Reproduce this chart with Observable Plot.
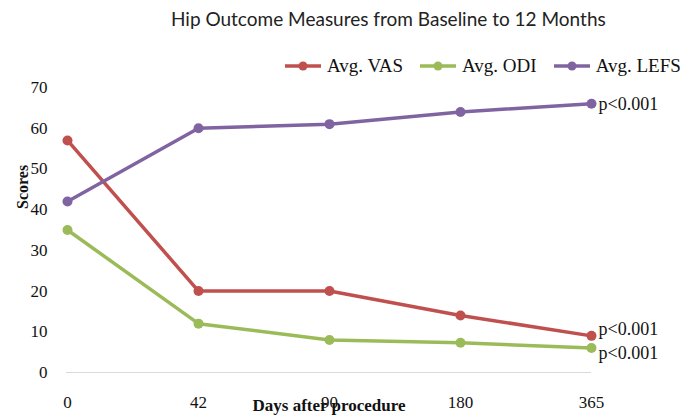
<!DOCTYPE html>
<html><head><meta charset="utf-8">
<script src="https://cdn.jsdelivr.net/npm/d3@7"></script>
<script src="https://cdn.jsdelivr.net/npm/@observablehq/plot@0.6"></script>
<style>
body{margin:0;background:#fff;}
#wrap{position:relative;width:691px;height:419px;}
#title{position:absolute;left:171px;top:7px;white-space:nowrap;font-family:Lato,"Liberation Sans",sans-serif;font-size:19px;color:#222;}
#legend{position:absolute;top:55px;left:285px;display:flex;gap:17px;font-family:"Liberation Serif",serif;font-size:19px;color:#111;white-space:nowrap;}
.item{display:flex;align-items:center;gap:6px;}
</style></head>
<body><div id="wrap"><div id="title"></div><div id="legend"></div></div>
<script>
const days = ["0","42","90","180","365"];
const seriesNames = ["Avg. VAS","Avg. ODI","Avg. LEFS"];
const colors = ["#c0504d","#9bbb59","#8064a2"];
const vas = [57,20,20,14,9];
const odi = [35,12,8,7.3,6];
const lefs = [42,60,61,64,66];
const pValues = ["p<0.001","p<0.001","p<0.001"];
const pOffsets = [-7,5,0];
const titleText = "Hip Outcome Measures from Baseline to 12 Months";
const xLabel = "Days after procedure";
const yLabel = "Scores";
const yTicks = [0,10,20,30,40,50,60,70];

const values = [vas, odi, lefs];
const data = [];
values.forEach((arr,i)=>arr.forEach((v,j)=>data.push({series:seriesNames[i], day:days[j], value:v})));
const lastPts = values.map((arr,i)=>({series:seriesNames[i], day:days[days.length-1], value:arr[arr.length-1], p:pValues[i]}));

document.getElementById("title").textContent = titleText;
const leg = document.getElementById("legend");
seriesNames.forEach((s,i)=>{
  const it=document.createElement("div");it.className="item";
  it.innerHTML=`<svg width="36" height="12"><line x1="0" y1="6" x2="36" y2="6" stroke="${colors[i]}" stroke-width="3.5"/><circle cx="18" cy="6" r="4.5" fill="${colors[i]}"/></svg><span>${s}</span>`;
  leg.appendChild(it);
});

const pMarks = lastPts.map((d,i)=>Plot.text([d],{x:"day", y:"value", text:"p", dx:7, dy:pOffsets[i], textAnchor:"start", fontSize:18, fill:"#111"}));

const chart = Plot.plot({
  width:691, height:419,
  marginLeft:66, marginRight:100, marginTop:87, marginBottom:47,
  style:{fontFamily:"Liberation Serif, serif", fontSize:"16px", color:"#111", background:"transparent"},
  x:{type:"point", domain:days, padding:0},
  y:{domain:[0,70]},
  color:{domain:seriesNames, range:colors},
  marks:[
    Plot.ruleY([0],{stroke:"#d9d9d9", strokeWidth:1}),
    Plot.axisY({ticks:yTicks, tickSize:0, tickPadding:19, label:null, fontSize:17}),
    Plot.axisX({tickSize:0, tickPadding:23, label:null, fontSize:17}),
    Plot.text([yLabel],{frameAnchor:"left", dx:-44, dy:-21, rotate:-90, fontWeight:"bold", fontSize:16, fill:"#111"}),
    Plot.text([xLabel],{frameAnchor:"bottom", dy:38, fontWeight:"bold", fontSize:17, fill:"#111"}),
    Plot.line(data,{x:"day", y:"value", z:"series", stroke:"series", strokeWidth:3.5}),
    Plot.dot(data,{x:"day", y:"value", fill:"series", r:5}),
    ...pMarks
  ]
});
document.getElementById("wrap").appendChild(chart);
chart.style.position="absolute";chart.style.left="0";chart.style.top="0";
</script></body></html>
